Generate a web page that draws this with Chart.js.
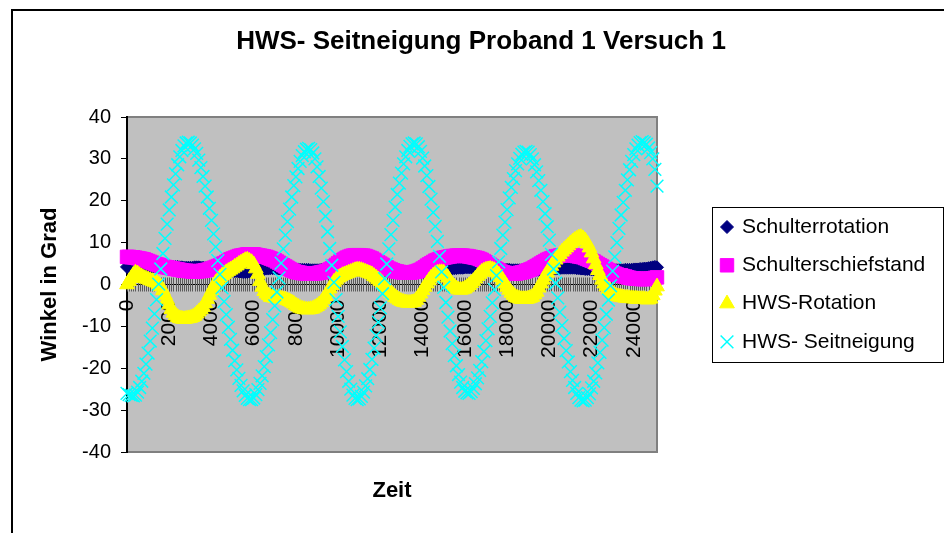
<!DOCTYPE html>
<html lang="de">
<head>
<meta charset="utf-8">
<title>HWS- Seitneigung Proband 1 Versuch 1</title>
<script src="https://cdn.jsdelivr.net/npm/chart.js@4.4.1/dist/chart.umd.min.js"></script>
<style>
  html, body { margin: 0; padding: 0; background: #fff; }
  .page { position: relative; width: 944px; height: 533px; overflow: hidden; }
  .frame { position: absolute; left: 11px; top: 9px; width: 1000px; height: 600px; border: 2px solid #000; }
  #chart { position: absolute; left: 0; top: 0; }
</style>
</head>
<body>
<div class="page">
  <div class="frame"></div>
  <canvas id="chart" width="944" height="533"></canvas>
</div>
<script>
const TITLE = 'HWS- Seitneigung Proband 1 Versuch 1';
const SERIES_LABELS = ['Schulterrotation', 'Schulterschiefstand', 'HWS-Rotation', 'HWS- Seitneigung'];
const X_TICK_LABELS = [0, 2000, 4000, 6000, 8000, 10000, 12000, 14000, 16000, 18000, 20000, 22000, 24000];
const Y_MIN = -40;
const Y_MAX = 40;
const Y_STEP = 10;

// Zeit (Messpunkte)
const TIME = [
  0, 100, 200, 300, 400, 500, 600, 700, 800, 900, 1000, 1100, 1200, 1300, 1400, 1500, 1600, 1700, 1800, 1900,
  2000, 2100, 2200, 2300, 2400, 2500, 2600, 2700, 2800, 2900, 3000, 3100, 3200, 3300, 3400, 3500, 3600, 3700, 3800, 3900,
  4000, 4100, 4200, 4300, 4400, 4500, 4600, 4700, 4800, 4900, 5000, 5100, 5200, 5300, 5400, 5500, 5600, 5700, 5800, 5900,
  6000, 6100, 6200, 6300, 6400, 6500, 6600, 6700, 6800, 6900, 7000, 7100, 7200, 7300, 7400, 7500, 7600, 7700, 7800, 7900,
  8000, 8100, 8200, 8300, 8400, 8500, 8600, 8700, 8800, 8900, 9000, 9100, 9200, 9300, 9400, 9500, 9600, 9700, 9800, 9900,
  10000, 10100, 10200, 10300, 10400, 10500, 10600, 10700, 10800, 10900, 11000, 11100, 11200, 11300, 11400, 11500, 11600, 11700, 11800, 11900,
  12000, 12100, 12200, 12300, 12400, 12500, 12600, 12700, 12800, 12900, 13000, 13100, 13200, 13300, 13400, 13500, 13600, 13700, 13800, 13900,
  14000, 14100, 14200, 14300, 14400, 14500, 14600, 14700, 14800, 14900, 15000, 15100, 15200, 15300, 15400, 15500, 15600, 15700, 15800, 15900,
  16000, 16100, 16200, 16300, 16400, 16500, 16600, 16700, 16800, 16900, 17000, 17100, 17200, 17300, 17400, 17500, 17600, 17700, 17800, 17900,
  18000, 18100, 18200, 18300, 18400, 18500, 18600, 18700, 18800, 18900, 19000, 19100, 19200, 19300, 19400, 19500, 19600, 19700, 19800, 19900,
  20000, 20100, 20200, 20300, 20400, 20500, 20600, 20700, 20800, 20900, 21000, 21100, 21200, 21300, 21400, 21500, 21600, 21700, 21800, 21900,
  22000, 22100, 22200, 22300, 22400, 22500, 22600, 22700, 22800, 22900, 23000, 23100, 23200, 23300, 23400, 23500, 23600, 23700, 23800, 23900,
  24000, 24100, 24200, 24300, 24400, 24500, 24600, 24700, 24800, 24900, 25000, 25100,
];

const SCHULTERROTATION = [
  4.2, 4.3, 4.3, 4.4, 4.4, 4.4, 4.3, 4.3, 4.2, 4.2, 4.2, 4.2, 4.3, 4.3, 4.3, 4.2, 4.2, 4.2, 4.1, 4.1,
  4.1, 4.1, 4.2, 4.2, 4.2, 4.1, 4.1, 4.0, 4.0, 4.0, 4.0, 4.0, 4.1, 4.1, 4.1, 4.0, 4.0, 3.9, 3.9, 3.9,
  3.9, 3.8, 3.8, 3.7, 3.6, 3.5, 3.5, 3.4, 3.4, 3.3, 3.3, 3.2, 3.2, 3.1, 3.1, 3.0, 3.0, 3.0, 3.1, 3.1,
  3.2, 3.3, 3.4, 3.5, 3.6, 3.7, 3.8, 3.8, 3.9, 3.9, 3.9, 3.9, 3.8, 3.8, 3.8, 3.7, 3.7, 3.7, 3.6, 3.6,
  3.6, 3.6, 3.5, 3.5, 3.5, 3.5, 3.5, 3.4, 3.4, 3.4, 3.4, 3.4, 3.5, 3.5, 3.5, 3.6, 3.6, 3.6, 3.6, 3.6,
  3.7, 3.7, 3.7, 3.6, 3.6, 3.6, 3.6, 3.6, 3.5, 3.5, 3.5, 3.5, 3.5, 3.5, 3.5, 3.4, 3.4, 3.4, 3.4, 3.4,
  3.4, 3.3, 3.3, 3.3, 3.2, 3.2, 3.2, 3.2, 3.1, 3.1, 3.1, 3.0, 3.0, 3.0, 3.0, 3.0, 3.0, 3.0, 3.1, 3.1,
  3.1, 3.2, 3.2, 3.3, 3.3, 3.4, 3.4, 3.5, 3.5, 3.6, 3.6, 3.7, 3.7, 3.8, 3.8, 3.9, 3.9, 4.0, 4.0, 4.0,
  4.1, 4.1, 4.1, 4.1, 4.0, 4.0, 4.0, 3.9, 3.9, 3.9, 3.8, 3.8, 3.8, 3.7, 3.7, 3.6, 3.6, 3.6, 3.5, 3.5,
  3.5, 3.5, 3.4, 3.4, 3.4, 3.4, 3.4, 3.4, 3.4, 3.4, 3.4, 3.4, 3.4, 3.5, 3.5, 3.5, 3.5, 3.6, 3.6, 3.6,
  3.7, 3.7, 3.8, 3.8, 3.9, 3.9, 4.0, 4.0, 4.0, 4.0, 4.0, 4.0, 4.0, 3.9, 3.9, 3.8, 3.8, 3.7, 3.7, 3.7,
  3.6, 3.6, 3.6, 3.5, 3.5, 3.5, 3.4, 3.4, 3.4, 3.4, 3.4, 3.4, 3.4, 3.4, 3.4, 3.4, 3.5, 3.5, 3.5, 3.5,
  3.6, 3.6, 3.6, 3.7, 3.7, 3.8, 3.8, 3.9, 4.0, 4.1, 4.2, 4.1,
];

const SCHULTERSCHIEFSTAND = [
  6.6, 6.6, 6.5, 6.5, 6.4, 6.3, 6.2, 6.1, 6.0, 5.8, 5.6, 5.4, 5.2, 5.0, 4.8, 4.7, 4.5, 4.4, 4.2, 4.1,
  4.0, 3.9, 3.8, 3.7, 3.6, 3.5, 3.4, 3.3, 3.3, 3.2, 3.2, 3.1, 3.1, 3.1, 3.2, 3.2, 3.3, 3.4, 3.5, 3.6,
  3.8, 4.0, 4.2, 4.4, 4.6, 4.9, 5.1, 5.4, 5.7, 6.0, 6.2, 6.4, 6.6, 6.8, 6.9, 7.0, 7.1, 7.2, 7.2, 7.2,
  7.2, 7.1, 7.0, 6.9, 6.8, 6.7, 6.6, 6.4, 6.2, 6.0, 5.8, 5.5, 5.2, 4.9, 4.6, 4.3, 4.0, 3.7, 3.4, 3.2,
  3.0, 2.9, 2.8, 2.7, 2.7, 2.6, 2.6, 2.6, 2.6, 2.7, 2.7, 2.8, 2.9, 3.0, 3.1, 3.3, 3.6, 3.9, 4.3, 4.7,
  5.1, 5.5, 5.8, 6.1, 6.4, 6.6, 6.8, 6.9, 7.0, 7.0, 7.0, 6.9, 6.9, 6.8, 6.6, 6.4, 6.2, 5.9, 5.6, 5.3,
  5.0, 4.7, 4.4, 4.1, 3.8, 3.6, 3.4, 3.2, 3.1, 3.0, 2.9, 2.9, 2.8, 2.8, 2.8, 2.9, 3.0, 3.1, 3.3, 3.5,
  3.8, 4.1, 4.5, 4.8, 5.1, 5.4, 5.7, 5.9, 6.1, 6.3, 6.4, 6.5, 6.6, 6.7, 6.8, 6.8, 6.9, 6.9, 6.9, 6.9,
  6.8, 6.8, 6.7, 6.6, 6.5, 6.4, 6.3, 6.1, 5.9, 5.6, 5.3, 5.0, 4.7, 4.3, 4.0, 3.7, 3.4, 3.1, 2.9, 2.8,
  2.7, 2.6, 2.6, 2.6, 2.6, 2.7, 2.8, 2.9, 3.0, 3.2, 3.4, 3.6, 3.8, 4.1, 4.4, 4.7, 5.0, 5.3, 5.6, 5.9,
  6.1, 6.3, 6.5, 6.7, 6.8, 6.9, 7.0, 7.0, 7.1, 7.1, 7.0, 7.0, 6.9, 6.8, 6.7, 6.6, 6.5, 6.3, 6.1, 5.9,
  5.7, 5.5, 5.2, 4.9, 4.6, 4.3, 4.0, 3.7, 3.4, 3.1, 2.8, 2.6, 2.4, 2.2, 2.2, 2.0, 1.9, 1.7, 1.6, 1.5,
  1.5, 1.4, 1.4, 1.3, 1.3, 1.3, 1.3, 1.4, 1.4, 1.5, 1.6, 1.7,
];

const HWS_ROTATION = [
  0.0, 0.8, 1.5, 2.3, 2.8, 2.6, 2.2, 1.9, 1.6, 1.4, 1.2, 1.0, 0.8, 0.6, 0.4, 0.0, -0.5, -1.4, -2.5, -3.6,
  -4.8, -5.9, -6.8, -7.4, -7.8, -8.1, -8.2, -8.3, -8.2, -8.1, -8.0, -7.8, -7.5, -7.0, -6.5, -6.0, -5.4, -4.5, -3.5, -2.5,
  -1.5, -0.5, 0.4, 1.0, 1.6, 2.1, 2.5, 2.9, 3.2, 3.5, 3.8, 4.2, 4.5, 4.9, 5.2, 5.5, 5.8, 5.9, 5.6, 5.3,
  4.8, 3.8, 2.5, 0.8, -0.6, -1.6, -2.2, -2.6, -3.0, -3.1, -3.2, -3.2, -3.3, -3.4, -3.5, -3.6, -3.8, -4.0, -4.3, -4.6,
  -5.0, -5.3, -5.6, -5.8, -5.9, -6.0, -6.0, -5.9, -5.8, -5.5, -5.2, -4.8, -4.3, -3.6, -2.8, -1.9, -1.0, -0.2, 0.6, 1.1,
  1.6, 1.9, 2.2, 2.4, 2.6, 2.8, 3.0, 3.2, 3.4, 3.5, 3.5, 3.4, 3.2, 3.0, 2.8, 2.6, 2.4, 2.0, 1.6, 1.2,
  0.8, 0.3, -0.2, -0.8, -1.4, -2.0, -2.5, -3.0, -3.4, -3.7, -4.0, -4.2, -4.3, -4.4, -4.4, -4.3, -4.2, -3.7, -3.0, -2.2,
  -1.4, -0.6, 0.2, 0.9, 1.6, 2.1, 2.5, 2.8, 2.9, 2.9, 2.8, 2.3, 1.6, 0.8, 0.0, -0.5, -1.0, -1.2, -1.3, -1.2,
  -1.0, -0.6, -0.2, 0.3, 0.8, 1.4, 2.0, 2.5, 3.0, 3.3, 3.5, 3.6, 3.7, 3.6, 3.4, 2.9, 2.4, 1.7, 1.0, 0.2,
  -0.6, -1.3, -2.0, -2.5, -3.0, -3.2, -3.4, -3.5, -3.5, -3.5, -3.4, -3.2, -3.0, -2.4, -1.8, -0.8, 0.2, 1.1, 2.0, 2.8,
  3.6, 4.4, 5.2, 5.9, 6.6, 7.2, 7.8, 8.3, 8.8, 9.3, 9.8, 10.2, 10.6, 10.9, 11.2, 11.3, 11.0, 10.5, 9.8, 8.8,
  7.6, 6.2, 4.8, 3.4, 2.2, 1.1, 0.2, -0.5, -1.2, -1.7, -2.2, -2.5, -2.8, -2.9, -3.0, -3.1, -3.2, -3.2, -3.3, -3.3,
  -3.4, -3.4, -3.5, -3.5, -3.5, -3.5, -3.6, -3.6, -3.4, -2.6, -1.5, -0.5,
];

const HWS_SEITNEIGUNG = [
  -26.0, -26.3, -26.5, -26.6, -26.4, -25.7, -24.6, -23.1, -21.2, -19.0, -16.4, -13.5, -10.4, -7.0, -3.6, 0.1, 3.7, 7.4, 11.0, 14.4,
  17.8, 20.9, 23.8, 26.4, 28.6, 30.5, 32.0, 33.1, 33.8, 34.0, 33.8, 33.3, 32.4, 31.3, 29.7, 27.9, 25.8, 23.5, 20.9, 18.2,
  15.3, 12.1, 9.0, 5.7, 2.4, -0.8, -4.1, -7.2, -10.2, -13.1, -15.7, -18.2, -20.4, -22.4, -24.1, -25.4, -26.5, -27.2, -27.5, -27.5,
  -27.1, -26.3, -25.1, -23.6, -21.8, -19.6, -17.2, -14.4, -11.5, -8.4, -5.1, -1.8, 1.6, 5.1, 8.5, 11.8, 15.0, 18.0, 20.9, 23.6,
  25.7, 27.7, 29.4, 30.8, 31.7, 32.3, 32.5, 32.2, 31.4, 30.0, 28.1, 25.8, 23.0, 19.8, 16.3, 12.6, 8.6, 4.6, 0.5, -3.6,
  -7.6, -11.3, -14.8, -18.0, -20.8, -23.1, -25.0, -26.4, -27.2, -27.5, -27.3, -26.7, -25.7, -24.2, -22.5, -20.3, -17.9, -15.2, -12.2, -9.0,
  -5.6, -2.2, 1.4, 4.9, 8.5, 11.9, 15.3, 18.5, 21.5, 24.2, 26.6, 28.8, 30.5, 32.0, 33.0, 33.6, 33.8, 33.6, 32.9, 31.8,
  30.2, 28.3, 26.0, 23.4, 20.4, 17.2, 13.9, 10.3, 6.7, 3.0, -0.7, -4.3, -7.8, -11.1, -14.1, -17.0, -19.4, -21.5, -23.3, -24.6,
  -25.5, -25.9, -26.0, -25.6, -24.8, -23.7, -22.3, -20.5, -18.4, -16.0, -13.4, -10.6, -7.6, -4.4, -1.2, 2.1, 5.4, 8.6, 11.8, 14.9,
  17.9, 20.7, 23.2, 25.3, 27.2, 28.8, 30.1, 31.1, 31.6, 31.8, 31.6, 31.0, 30.0, 28.6, 26.9, 24.8, 22.5, 19.8, 16.9, 13.8,
  10.6, 7.2, 3.7, 0.3, -3.2, -6.6, -9.8, -12.9, -15.8, -18.5, -20.8, -22.9, -24.6, -26.0, -27.0, -27.6, -27.8, -27.6, -27.0, -26.1,
  -24.7, -23.1, -21.1, -18.7, -16.2, -13.3, -10.3, -7.1, -3.7, -0.3, 3.2, 6.6, 10.0, 13.4, 16.6, 19.6, 22.5, 25.0, 27.4, 29.4,
  31.0, 32.4, 33.3, 33.9, 34.1, 33.9, 33.5, 32.6, 31.5, 30.0, 27.5, 23.5,
];

Chart.defaults.font.family = "'Liberation Sans', Arial, sans-serif";
Chart.defaults.color = '#000';

function makeSeries(label, data, color, pointStyle, radius, borderWidth, order) {
  return {
    label,
    data,
    showLine: false,
    pointStyle,
    pointRadius: radius,
    pointBackgroundColor: color,
    pointBorderColor: color,
    pointBorderWidth: borderWidth,
    backgroundColor: color,
    borderColor: color,
    order,
    clip: false,
    xAxisID: 'x',
    yAxisID: 'y',
  };
}

// grey plot area with its thin frame
const plotFrame = {
  id: 'plotFrame',
  beforeDraw(chart) {
    const { ctx, chartArea: { left, top, right, bottom } } = chart;
    ctx.save();
    ctx.fillStyle = '#c0c0c0';
    ctx.fillRect(left, top, right - left, bottom - top);
    ctx.strokeStyle = '#808080';
    ctx.lineWidth = 2;
    ctx.beginPath();
    ctx.moveTo(left, top);
    ctx.lineTo(right, top);
    ctx.lineTo(right, bottom);
    ctx.lineTo(left, bottom);
    ctx.stroke();
    ctx.restore();
  },
};

// Excel-style tick marks crossing the time axis at every sample
const crossTicks = {
  id: 'crossTicks',
  beforeDatasetsDraw(chart) {
    const { ctx, scales: { x, y } } = chart;
    const y0 = y.getPixelForValue(0);
    ctx.save();
    ctx.strokeStyle = '#5a5a5a';
    ctx.lineWidth = 1;
    ctx.beginPath();
    x.ticks.forEach((tick) => {
      const px = Math.round(x.getPixelForValue(tick.value)) + 0.5;
      ctx.moveTo(px, y0 - 7);
      ctx.lineTo(px, y0 + 7);
    });
    ctx.stroke();
    ctx.restore();
  },
};

// framed legend to the right of the plot
const boxLegend = {
  id: 'boxLegend',
  afterDraw(chart, args, opts) {
    const { ctx } = chart;
    ctx.save();
    ctx.fillStyle = '#fff';
    ctx.fillRect(opts.left, opts.top, opts.width, opts.height);
    ctx.strokeStyle = '#000';
    ctx.lineWidth = 1;
    ctx.strokeRect(opts.left + 0.5, opts.top + 0.5, opts.width, opts.height);
    ctx.font = `${opts.fontSize}px 'Liberation Sans', Arial, sans-serif`;
    ctx.textBaseline = 'middle';
    ctx.textAlign = 'left';
    chart.data.datasets.forEach((ds, i) => {
      const cy = opts.top + opts.firstRow + i * opts.rowHeight;
      ctx.fillStyle = ds.pointBackgroundColor;
      ctx.strokeStyle = ds.pointBorderColor;
      ctx.lineWidth = ds.pointBorderWidth;
      Chart.helpers.drawPoint(ctx, {
        pointStyle: ds.pointStyle,
        radius: ds.pointRadius,
        borderWidth: ds.pointBorderWidth,
        rotation: 0,
      }, opts.markerX, cy);
      ctx.fillStyle = '#000';
      ctx.fillText(ds.label, opts.textX, cy);
    });
    ctx.restore();
  },
};

new Chart(document.getElementById('chart'), {
  type: 'line',
  data: {
    labels: TIME,
    datasets: [
      makeSeries(SERIES_LABELS[0], SCHULTERROTATION, '#000080', 'rectRot', 6.5, 1, 4),
      makeSeries(SERIES_LABELS[1], SCHULTERSCHIEFSTAND, '#ff00ff', 'rect', 9.5, 1, 3),
      makeSeries(SERIES_LABELS[2], HWS_ROTATION, '#ffff00', 'triangle', 8.5, 1, 2),
      makeSeries(SERIES_LABELS[3], HWS_SEITNEIGUNG, '#00ffff', 'crossRot', 9, 1.5, 1),
    ],
  },
  options: {
    responsive: false,
    animation: false,
    devicePixelRatio: 1,
    events: [],
    layout: { padding: { left: 18, right: 0, top: 0, bottom: 0 } },
    plugins: {
      legend: { display: false },
      tooltip: { enabled: false },
      title: {
        display: true,
        text: TITLE,
        color: '#000',
        font: { size: 26, weight: 'bold' },
        padding: { top: 26.4, bottom: 59.4 },
      },
      boxLegend: {
        left: 712,
        top: 207,
        width: 231,
        height: 155,
        firstRow: 20,
        rowHeight: 38.3,
        markerX: 727,
        textX: 742,
        fontSize: 21,
      },
    },
    scales: {
      x: {
        type: 'linear',
        position: { y: 0 },
        min: TIME[0],
        max: TIME[TIME.length - 1],
        grid: { display: false, tickLength: 7 },
        border: { display: true, color: '#000', width: 1 },
        ticks: {
          stepSize: 100,
          autoSkip: false,
          minRotation: 90,
          maxRotation: 90,
          padding: 8,
          color: '#000',
          font: { size: 21 },
          callback(value) {
            const t = Math.round(value);
            return X_TICK_LABELS.includes(t) ? String(t) : '';
          },
        },
      },
      xTitle: {
        type: 'linear',
        axis: 'x',
        position: 'bottom',
        grid: { display: false, drawTicks: false },
        border: { display: false },
        ticks: { display: false },
        title: {
          display: true,
          text: 'Zeit',
          color: '#000',
          font: { size: 22, weight: 'bold' },
          padding: { top: 25.8, bottom: 28.8 },
        },
      },
      y: {
        type: 'linear',
        position: 'left',
        min: Y_MIN,
        max: Y_MAX,
        afterFit(scale) {
          scale.width = 109;
        },
        grid: { drawOnChartArea: false, drawTicks: true, tickLength: 6, color: '#000' },
        border: { display: true, color: '#000', width: 2 },
        ticks: { stepSize: Y_STEP, padding: 10, color: '#000', font: { size: 20 } },
        title: {
          display: true,
          text: 'Winkel in Grad',
          color: '#000',
          font: { size: 22, weight: 'bold' },
          padding: { top: 18.8, bottom: 0 },
        },
      },
      yRight: {
        type: 'linear',
        position: 'right',
        afterFit(scale) {
          scale.width = 287;
        },
        grid: { display: false, drawTicks: false },
        border: { display: false },
        ticks: { display: false },
      },
    },
  },
  plugins: [plotFrame, crossTicks, boxLegend],
});
</script>
</body>
</html>
